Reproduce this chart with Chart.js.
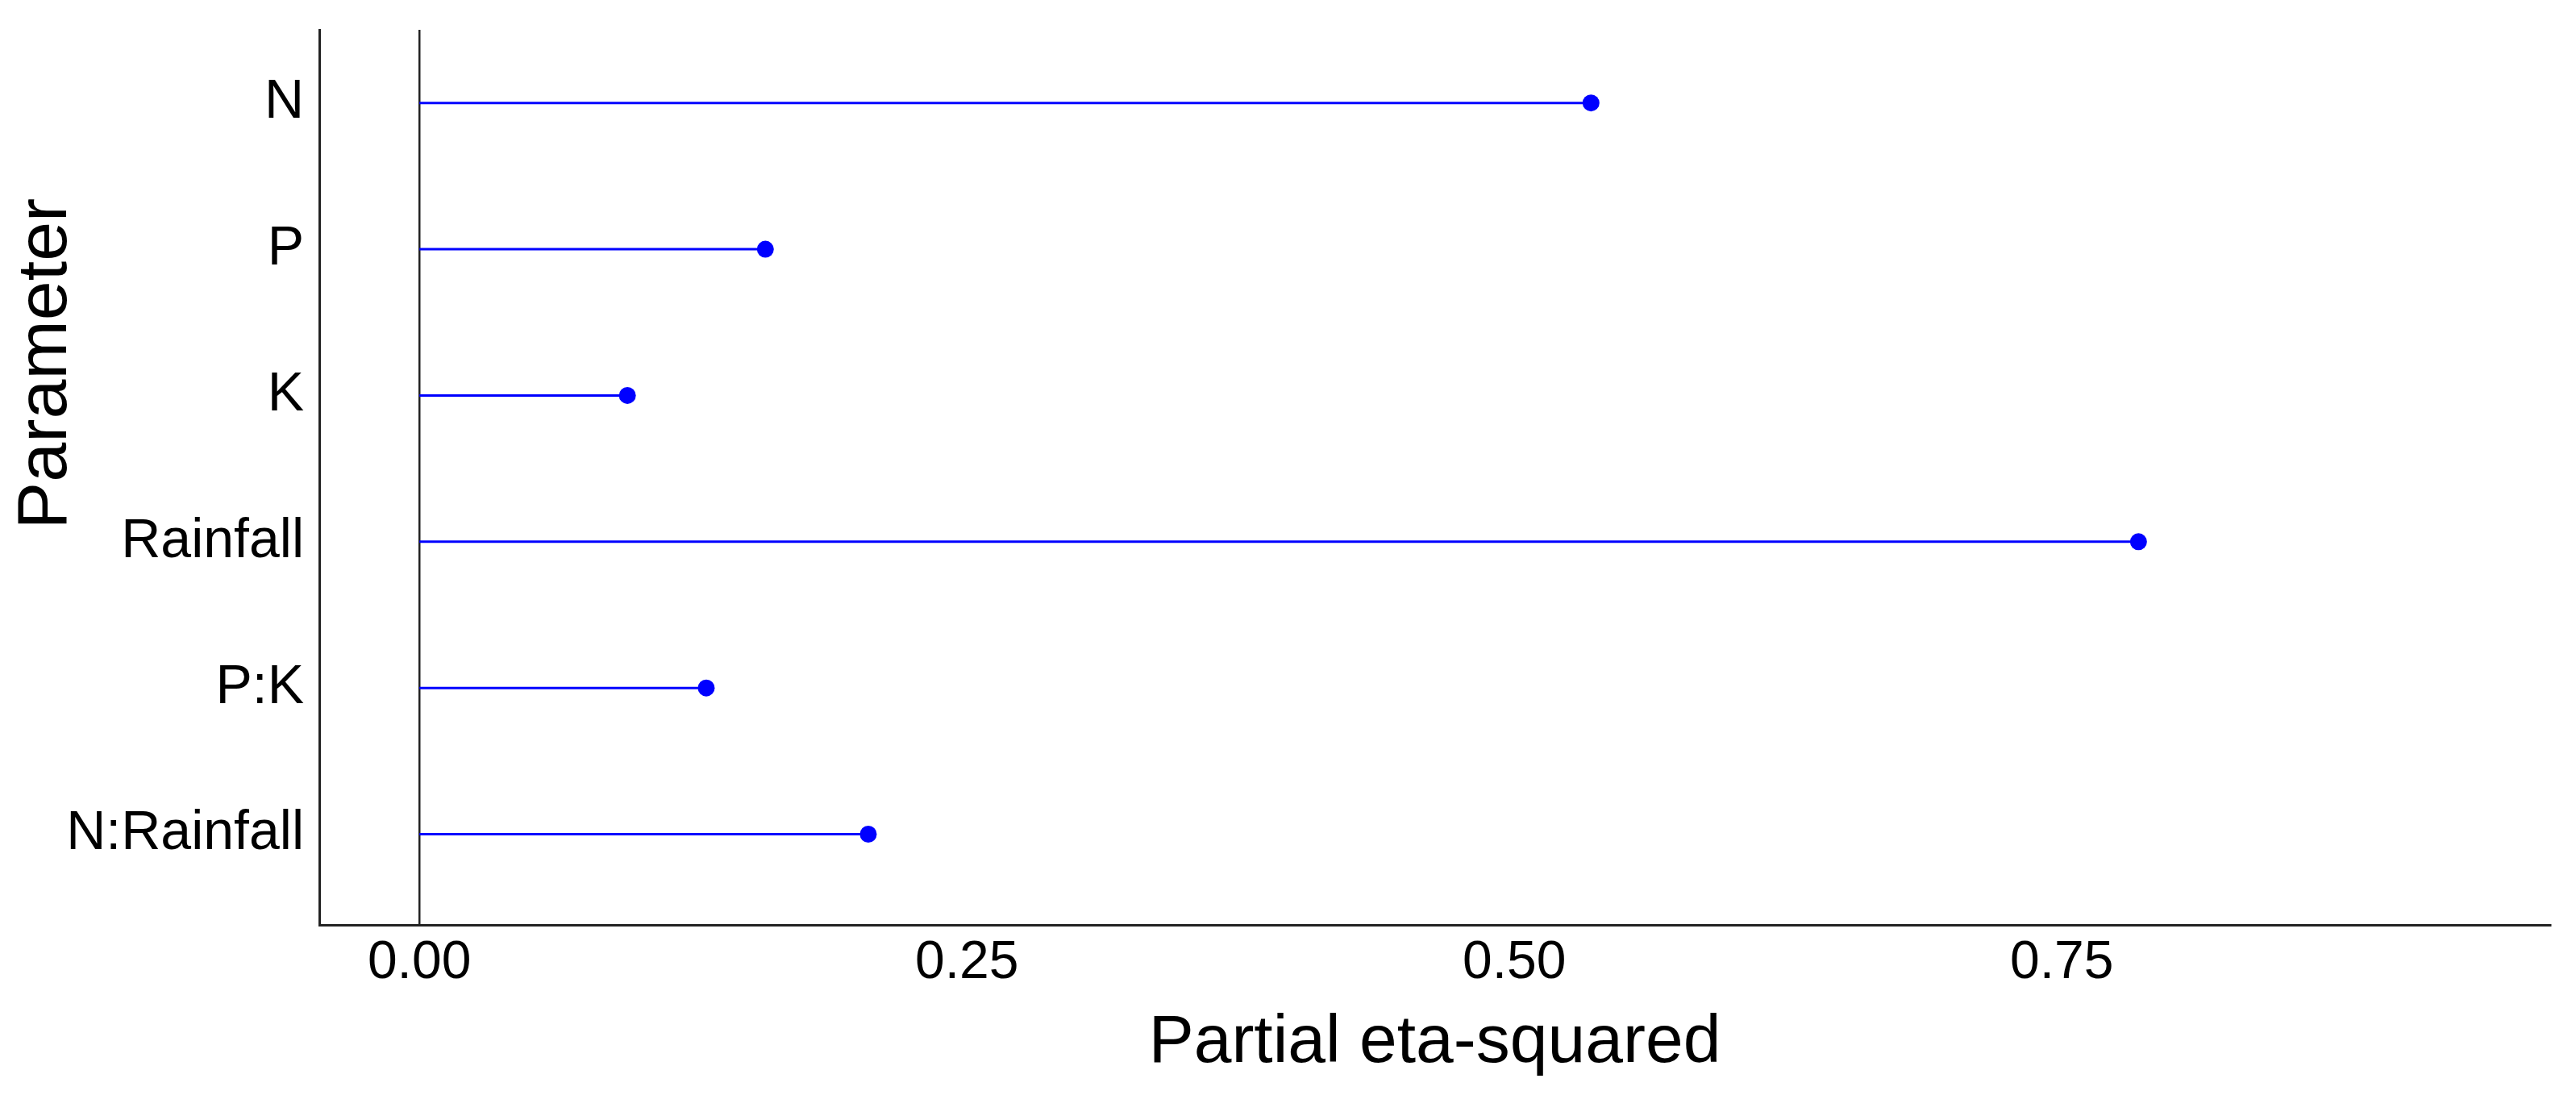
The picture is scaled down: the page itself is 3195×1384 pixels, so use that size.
<!DOCTYPE html>
<html>
<head>
<meta charset="utf-8">
<script src="https://cdn.jsdelivr.net/npm/chart.js@4.4.1/dist/chart.umd.min.js"></script>
<style>
    html, body { margin: 0; padding: 0; background: #fff; }
    #wrap { width: 3195px; height: 1384px; }
</style>
</head>
<body>
<div id="wrap"><canvas id="lollipop" width="3195" height="1384"></canvas></div>
<script>
// Effect sizes
const categories = ['N', 'P', 'K', 'Rainfall', 'P:K', 'N:Rainfall'];
const etaSquared = [0.535, 0.158, 0.095, 0.785, 0.131, 0.205];
const xTicks = [0, 0.25, 0.5, 0.75];

const xTitle = 'Partial eta-squared';
const yTitle = 'Parameter';

const stemColor = '#0000ff';
const fontFamily = '"Liberation Sans", Arial, sans-serif';

// one little line per parameter: from 0 out to its value, dot at the end
const datasets = categories.map((name, i) => ({
    label: name,
    data: [{ x: 0, y: i }, { x: etaSquared[i], y: i }],
    showLine: true,
    borderColor: stemColor,
    borderWidth: 3,
    pointRadius: [0, 10.5],
    pointHoverRadius: [0, 10.5],
    pointBackgroundColor: stemColor,
    pointBorderWidth: 0
}));

// y axis title sits a bit above the panel middle in the original
const yTitlePlugin = {
    id: 'yTitle',
    afterDraw(chart) {
        const ctx = chart.ctx;
        ctx.save();
        ctx.translate(58, 451);
        ctx.rotate(-Math.PI / 2);
        ctx.font = '88px ' + fontFamily;
        ctx.fillStyle = '#000';
        ctx.textAlign = 'center';
        ctx.textBaseline = 'middle';
        ctx.fillText(yTitle, 0, 0);
        ctx.restore();
    }
};

const ctx = document.getElementById('lollipop').getContext('2d');
new Chart(ctx, {
    type: 'scatter',
    data: { datasets: datasets },
    plugins: [yTitlePlugin],
    options: {
        responsive: false,
        devicePixelRatio: 1,
        animation: false,
        events: [],
        layout: {
            padding: { top: 37, right: 32, bottom: 0, left: 0 }
        },
        plugins: {
            legend: { display: false },
            tooltip: { enabled: false }
        },
        scales: {
            x: {
                type: 'linear',
                min: -0.0457,
                max: 0.973,
                afterBuildTicks: (scale) => {
                    scale.ticks = xTicks.map(v => ({ value: v }));
                },
                afterFit: (scale) => {
                    scale.height = 237;
                    scale.paddingLeft = 0;
                    scale.paddingRight = 0;
                },
                ticks: {
                    callback: (v) => Number(v).toFixed(2),
                    font: { family: fontFamily, size: 66 },
                    color: '#000',
                    padding: 8,
                    maxRotation: 0
                },
                grid: {
                    drawTicks: false,
                    lineWidth: 2.5,
                    color: (c) => (c.tick && c.tick.value === 0 ? '#222' : 'rgba(0,0,0,0)')
                },
                border: { display: true, color: '#222', width: 3 },
                title: {
                    display: true,
                    text: xTitle,
                    font: { family: fontFamily, size: 84 },
                    color: '#000',
                    padding: { top: 0, bottom: 40 }
                }
            },
            y: {
                type: 'linear',
                reverse: true,
                min: -0.5,
                max: 5.62,
                afterBuildTicks: (scale) => {
                    scale.ticks = categories.map((_, i) => ({ value: i }));
                },
                afterFit: (scale) => {
                    scale.width = 396;
                    scale.paddingTop = 0;
                    scale.paddingBottom = 0;
                },
                ticks: {
                    callback: (v) => categories[v],
                    font: { family: fontFamily, size: 68 },
                    color: '#000',
                    padding: 19
                },
                grid: { display: false, drawTicks: false },
                border: { display: true, color: '#222', width: 3 }
            }
        }
    }
});
</script>
</body>
</html>
